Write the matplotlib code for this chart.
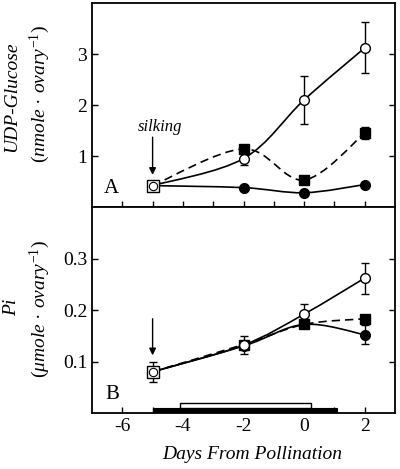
import matplotlib
matplotlib.use("Agg")
import matplotlib.pyplot as plt
from matplotlib.path import Path
from matplotlib.patches import PathPatch, Rectangle

plt.rcParams['font.family'] = ['Liberation Serif', 'DejaVu Serif']
plt.rcParams['mathtext.fontset'] = 'custom'
plt.rcParams['mathtext.rm'] = 'Liberation Serif'
plt.rcParams['mathtext.it'] = 'Liberation Serif:italic'
plt.rcParams['axes.unicode_minus'] = False

# ---- data (days from pollination) ----
days = [-5, -2, 0, 2]

# Panel A: UDP-glucose (nmole / ovary)
udpg_open = [0.42, 0.95, 2.10, 3.12]
udpg_open_err = [0.0, 0.12, 0.47, 0.50]
udpg_square = [0.42, 1.14, 0.53, 1.45]
udpg_square_err = [0.0, 0.0, 0.07, 0.12]
udpg_filled = [0.42, 0.38, 0.28, 0.44]
udpg_filled_err = [0.0, 0.0, 0.0, 0.0]

# Panel B: Pi (umole / ovary)
pi_open = [0.080, 0.132, 0.192, 0.262]
pi_open_err = [0.019, 0.018, 0.020, 0.030]
pi_square = [0.080, 0.133, 0.172, 0.183]
pi_square_err = [0.0, 0.0, 0.0, 0.0]
pi_filled = [0.080, 0.130, 0.172, 0.152]
pi_filled_err = [0.0, 0.0, 0.0, 0.018]

# periods drawn along the bottom of panel B
open_period = (-4.08, 0.24)
black_period = (-5.0, 1.08)

LW = 1.2


def smooth_path(ax, xs, ys, **kw):
    # Catmull-Rom through the points, drawn as cubic Bezier segments
    pts = list(zip(xs, ys))
    ext = [pts[0]] + pts + [pts[-1]]
    verts = [pts[0]]
    codes = [Path.MOVETO]
    for i in range(1, len(ext) - 2):
        p0, p1, p2, p3 = ext[i - 1], ext[i], ext[i + 1], ext[i + 2]
        c1 = (p1[0] + (p2[0] - p0[0]) / 6, p1[1] + (p2[1] - p0[1]) / 6)
        c2 = (p2[0] - (p3[0] - p1[0]) / 6, p2[1] - (p3[1] - p1[1]) / 6)
        verts += [c1, c2, p2]
        codes += [Path.CURVE4] * 3
    ax.add_patch(PathPatch(Path(verts, codes), fill=False, **kw))


def draw_series(ax, y, err, marker, face, dashed=False, z=3):
    ls = (0, (5, 3)) if dashed else '-'
    smooth_path(ax, days, y, ec='black', lw=LW, ls=ls, zorder=z)
    ax.errorbar(days[1:], y[1:], yerr=err[1:], fmt='none', ecolor='black',
                elinewidth=1.0, capsize=3, capthick=1.0, zorder=z)
    ax.plot(days[1:], y[1:], ls='none', marker=marker, ms=7 if marker == 'o' else 6.5,
            mfc=face, mec='black', mew=1.0, zorder=z + 0.5)


def draw_start(ax, y, err):
    ax.errorbar(days[:1], y[:1], yerr=err[:1], fmt='none', ecolor='black',
                elinewidth=1.0, capsize=3, capthick=1.0, zorder=6)
    ax.plot(days[:1], y[:1], ls='none', marker='s', ms=8, mfc='white',
            mec='black', mew=1.0, zorder=6)
    ax.plot(days[:1], y[:1], ls='none', marker='o', ms=6, mfc='white',
            mec='black', mew=0.8, zorder=6.5)


fig = plt.figure(figsize=(4.0, 4.69), dpi=100)
axA = fig.add_axes([0.23, 0.5586, 0.7575, 0.435])
axB = fig.add_axes([0.23, 0.1194, 0.7575, 0.4392])

for ax in (axA, axB):
    ax.set_xlim(-7, 3)
    ax.set_xticks([-6, -4, -2, 0, 2])
    ax.set_xticks(range(-6, 3), minor=True)
    ax.tick_params(which='both', direction='in', length=4, width=1.0,
                   left=True, right=True, top=False, bottom=True, labelsize=14)
    for s in ax.spines.values():
        s.set_linewidth(1.3)

# ---- panel A ----
draw_series(axA, udpg_filled, udpg_filled_err, 'o', 'black', z=3)
draw_series(axA, udpg_square, udpg_square_err, 's', 'black', dashed=True, z=3.2)
draw_series(axA, udpg_open, udpg_open_err, 'o', 'white', z=4)
draw_start(axA, udpg_open, udpg_open_err)
axA.set_ylim(0, 4)
axA.set_yticks([1, 2, 3])
axA.tick_params(labelbottom=False)
axA.annotate('', xy=(-5, 0.63), xytext=(-5, 1.37),
             arrowprops=dict(arrowstyle='-|>', color='black', lw=1.0,
                             mutation_scale=10, shrinkA=0, shrinkB=0))
axA.text(-4.77, 1.56, 'silking', style='italic', fontsize=12, ha='center',
         va='center')
axA.text(-6.37, 0.37, 'A', fontsize=15, ha='center', va='center')

# ---- panel B ----
axB.add_patch(Rectangle((black_period[0], 0.0), black_period[1] - black_period[0],
                        0.0105, fc='black', ec='black', lw=0.8, zorder=2))
axB.add_patch(Rectangle((open_period[0], 0.0105), open_period[1] - open_period[0],
                        0.0085, fc='white', ec='black', lw=1.0, zorder=2))
draw_series(axB, pi_filled, pi_filled_err, 'o', 'black', z=3)
draw_series(axB, pi_square, pi_square_err, 's', 'black', dashed=True, z=3.2)
draw_series(axB, pi_open, pi_open_err, 'o', 'white', z=4)
draw_start(axB, pi_open, pi_open_err)
axB.set_ylim(0, 0.4)
axB.set_yticks([0.1, 0.2, 0.3])
axB.annotate('', xy=(-5, 0.112), xytext=(-5, 0.183),
             arrowprops=dict(arrowstyle='-|>', color='black', lw=1.0,
                             mutation_scale=10, shrinkA=0, shrinkB=0))
axB.text(-6.33, 0.035, 'B', fontsize=15, ha='center', va='center')

# ---- axis titles ----
fig.text(0.03, 0.793, 'UDP-Glucose', rotation=90, style='italic', fontsize=14,
         ha='center', va='center')
fig.text(0.10, 0.80, r'$\mathit{(nmole\ ·\ ovary^{-1})}$', rotation=90,
         fontsize=14, ha='center', va='center')
fig.text(0.028, 0.345, 'Pi', rotation=90, style='italic', fontsize=14,
         ha='center', va='center')
fig.text(0.10, 0.341, r'$\mathit{(μmole\ ·\ ovary^{-1})}$', rotation=90,
         fontsize=14, ha='center', va='center')
fig.text(0.63, 0.03, 'Days From Pollination', style='italic', fontsize=14,
         ha='center', va='center')

fig.savefig('out.png', dpi=100)
